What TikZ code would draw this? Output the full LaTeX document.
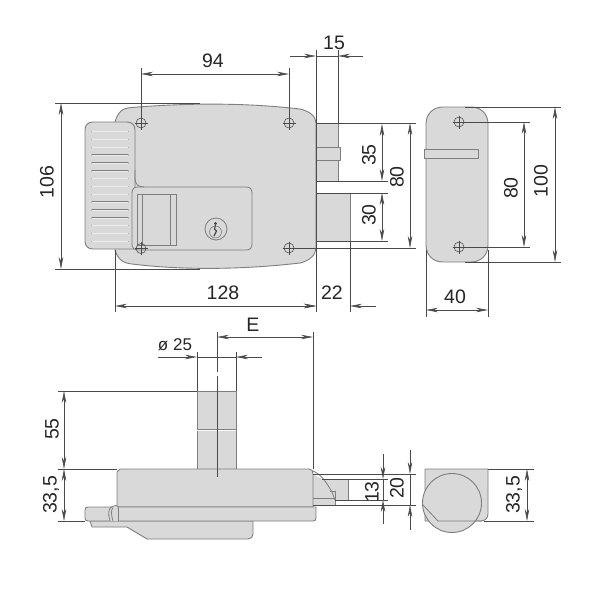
\documentclass[tikz,border=0pt]{standalone}
\usepackage{fontspec}
\setmainfont{Liberation Sans}
\usetikzlibrary{arrows.meta}
\definecolor{bodygrey}{HTML}{D9D9D9}
\definecolor{edgegrey}{HTML}{7E7E7E}
\definecolor{dimgrey}{HTML}{4A4A4A}
\tikzset{
  part/.style={fill=bodygrey,draw=edgegrey,line width=0.9pt,line join=round},
  thin part/.style={draw=edgegrey,line width=0.8pt},
  extl/.style={draw=dimgrey,line width=0.55pt},
  dimin/.style={draw=dimgrey,line width=0.55pt,{Stealth[length=12pt,width=4.5pt]}-{Stealth[length=12pt,width=4.5pt]}},
  tipend/.style={draw=dimgrey,line width=0.55pt,-{Stealth[length=12pt,width=4.5pt]}},
  lab/.style={inner sep=0pt,font=\fontsize{19.5}{20}\selectfont,text=black!85},
  vlab/.style={lab,rotate=90},
  hole/.style={draw=dimgrey,line width=0.55pt}
}
\newcommand{\screwhole}[2]{
  \draw[hole] (#1,#2) circle (5);
  \draw[hole] (#1-6.5,#2) -- (#1+6.5,#2) (#1,#2-6.5) -- (#1,#2+6.5);
}
\begin{document}
\begin{tikzpicture}[x=1pt,y=-1pt]
\useasboundingbox (0,0) rectangle (600,600);
\fill[white] (0,0) rectangle (600,600);
% ---------- front view: bolts
\fill[bodygrey] (316,123) rectangle (338,181);
\draw[thin part] (338,123) -- (338,147) (338,160) -- (338,181);
\draw[part] (316,147) rectangle (340,160);
\fill[bodygrey] (316,193) rectangle (350,241);
\draw[thin part] (350,193) -- (350,241);
% body
\draw[part] (115,122) .. controls (118,112) and (122,108) .. (132,107.5)
  .. controls (180,103.5) and (240,102) .. (300,109)
  .. controls (309,111) and (316,116) .. (316,123) -- (316,248)
  .. controls (316,255) and (309,261) .. (300,263)
  .. controls (240,270) and (180,270) .. (132,264)
  .. controls (122,263) and (118,259) .. (115,250) -- cycle;
% panel
\draw[thin part] (144,187) -- (246,187) .. controls (250,187) and (252,189) .. (252,193) -- (252,244)
  .. controls (252,248) and (250,250) .. (246,250) -- (138,250);
% plate
\draw[part] (93,122) -- (127,122) .. controls (132,122) and (135,125) .. (135,130) -- (135,249)
  -- (93,249) .. controls (88,249) and (85,246) .. (85,241) -- (85,130)
  .. controls (85,125) and (88,122) .. (93,122) -- cycle;
\fill[bodygrey] (133,187.6) rectangle (137,249.4);
\draw[thin part] (135,170) -- (135,178) .. controls (135,184) and (138,187) .. (144,187);
\draw[thin part] (144,187) -- (138,187) .. controls (134,187) and (132,189) .. (132,193) -- (132,244) .. controls (132,248) and (134,250) .. (138,250);
\foreach \i in {0,...,14}
  \draw[draw=edgegrey,line width=1.5pt,line cap=round] (92,131.7+\i*7.83) -- (128,131.7+\i*7.83);
\foreach \i in {0,...,14}
  \draw[draw=bodygrey!50!white,line width=0.5pt,line cap=round] (92,131.7+\i*7.83) -- (128,131.7+\i*7.83);
% window
\draw[thin part] (137,194) rectangle (176,245);
\draw[thin part] (142,194) -- (142,245) (170,194) -- (170,245);
% lock
\draw[thin part] (216,229) circle (11);
\draw[thin part,line width=0.6pt] (215.5,232) circle (6);
\draw[draw=dimgrey,line width=1.2pt] (215.5,225) -- (214.5,229) -- (216.5,231) -- (214,236);
\fill[dimgrey] (215.5,223.5) circle (1.6);
% holes
\screwhole{141}{123}
\screwhole{289}{123}
\screwhole{289}{248}
\screwhole{141}{248.5}
% dimension extension lines front view
\draw[extl] (141,68) -- (141,117) (289,68) -- (289,117);
\draw[dimin] (141,74) -- (289,74);
\draw[extl] (55,103) -- (200,103);
\draw[extl] (55,269) -- (200,269);
\draw[dimin] (61,103) -- (61,269);
\draw[extl] (115,250) -- (115,312);
\draw[extl] (316,50) -- (316,312);
\draw[extl] (338,50) -- (338,123);
\draw[extl] (350,241) -- (350,312);
\draw[dimin] (115,306) -- (316,306);
\draw[tipend] (290,56) -- (316,56);
\draw[tipend] (363,56) -- (338,56);
\draw[extl] (316,56) -- (338,56);
\draw[tipend] (290,306) -- (316,306);
\draw[tipend] (376,306) -- (350,306);
\draw[extl] (316,123) -- (416,123);
\draw[extl] (316,181) -- (388,181) (316,193) -- (388,193) (316,241) -- (388,241);
\draw[extl] (295,248) -- (416,248);
\draw[dimin] (382,124) -- (382,181);
\draw[dimin] (382,193) -- (382,241);
\draw[dimin] (410,123) -- (410,248);
% ---------- side view
\draw[part] (443,107) -- (471,107) .. controls (481,107) and (488,114) .. (488,124) -- (488,245)
  .. controls (488,255) and (481,262) .. (471,262) -- (443,262)
  .. controls (433,262) and (426,255) .. (426,245) -- (426,124)
  .. controls (426,114) and (433,107) .. (443,107) -- cycle;
\draw[part] (424,149) rectangle (478,158);
\screwhole{459}{122}
\screwhole{459}{247}
\draw[extl] (465,107) -- (561,107) (465,262) -- (561,262);
\draw[extl] (464,122) -- (530,122) (464,247) -- (530,247);
\draw[dimin] (524,122) -- (524,247);
\draw[dimin] (555,107) -- (555,262);
\draw[extl] (426,250) -- (426,317) (488,250) -- (488,317);
\draw[dimin] (426,310) -- (488,310);
% ---------- bottom view
\draw[part] (197,391) rectangle (236,469);
\draw[draw=edgegrey,line width=1pt] (197,429) -- (236,429);
\draw[draw=white,line width=0.5pt] (197,430.3) -- (236,430.3);
% latch
\fill[bodygrey] (313,474) -- (322,479) -- (348,479) -- (348,500) -- (335,500) -- (335,505) -- (313,505) -- cycle;
\draw[thin part] (348,479) -- (348,500);
\draw[thin part] (313,471) .. controls (322,475) and (326,482) .. (332,492) -- (335,500);
\draw[thin part] (330,491) -- (335,491) -- (335,505);
\draw[thin part] (313,498) -- (335,498);
\draw[part] (90,521) -- (92,527) -- (127,527) -- (147,539) -- (248,539)
  .. controls (251,539) and (253,537) .. (253,534) -- (253,521) -- cycle;
\draw[part] (120,469) -- (309,469) .. controls (312,469) and (313,471) .. (313,474) -- (313,507) -- (117,507) -- (117,472) -- cycle;
\draw[part] (88,507) -- (316,507) -- (316,518) .. controls (316,520) and (315,521) .. (313,521)
  -- (88,521) .. controls (86,521) and (85,520) .. (85,518) -- (85,510) .. controls (85,508) and (86,507) .. (88,507) -- cycle;
\draw[thin part,fill=bodygrey] (110,521) .. controls (108,514) and (108,509) .. (112,506.5) -- (116,505.5) .. controls (118,505.5) and (118.5,507) .. (118.5,509) -- (118.5,521);
\draw[thin part] (113,521) .. controls (111,514) and (111,510) .. (113,507.5);
% dims bottom view
\draw[extl] (217,332) -- (217,372) (217,376) -- (217,477);
\draw[extl] (197,352) -- (197,391) (236,352) -- (236,391);
\draw[extl] (313,332) -- (313,469);
\draw[dimin] (217,337) -- (313,337);
\draw[tipend] (158,357) -- (197,357);
\draw[tipend] (262,357) -- (236,357);
\draw[extl] (197,357) -- (236,357);
\draw[extl] (58,391) -- (197,391);
\draw[extl] (58,469) -- (117,469);
\draw[extl] (58,521) -- (85,521);
\draw[dimin] (64,391) -- (64,469);
\draw[dimin] (64,469) -- (64,521);
\draw[extl] (313,474) -- (416,474);
\draw[extl] (313,505) -- (416,505);
\draw[extl] (322,479) -- (388,479) (335,500) -- (388,500);
\draw[tipend] (383,454) -- (383,479);
\draw[tipend] (383,524) -- (383,500);
\draw[extl] (383,479) -- (383,500);
\draw[tipend] (410,450) -- (410,474);
\draw[tipend] (410,530) -- (410,505);
\draw[extl] (410,474) -- (410,505);
% ---------- end view
\draw[part] (425,469) -- (488,469) -- (488,514) .. controls (488,518) and (485,521) .. (481,521) -- (425,521) -- cycle;
\draw[part] (452,503) circle (29.5);
\draw[thin part] (423,505) -- (438,521) -- (482,521);
\draw[extl] (488,469) -- (534,469) (484,521) -- (534,521);
\draw[dimin] (527,469) -- (527,521);
% ---------- labels
\node[lab] (t94) at (213,61) {94};
\node[vlab] (t106) at (47,182) {106};
\node[lab] (t128) at (223,293) {128};
\node[lab] (t22) at (332,293) {22};
\node[lab] (t15) at (334,43) {15};
\node[vlab] (t35) at (369,155) {35};
\node[vlab] (t30) at (369,215) {30};
\node[vlab] (t80a) at (397,177) {80};
\node[vlab] (t80b) at (511,188) {80};
\node[vlab] (t100) at (541,181) {100};
\node[lab] (t40) at (455,297) {40};
\node[lab] (tphi) at (175,345) {\fontsize{17}{17}\selectfont ø 25};
\node[lab] (tE) at (253,325) {E};
\node[vlab] (t55) at (52,429) {55};
\node[vlab] (t335a) at (51,495) {33,5};
\node[vlab] (t13) at (372,492) {13};
\node[vlab] (t20) at (397,488) {20};
\node[vlab] (t335b) at (514,495) {33,5};
\end{tikzpicture}
\end{document}
